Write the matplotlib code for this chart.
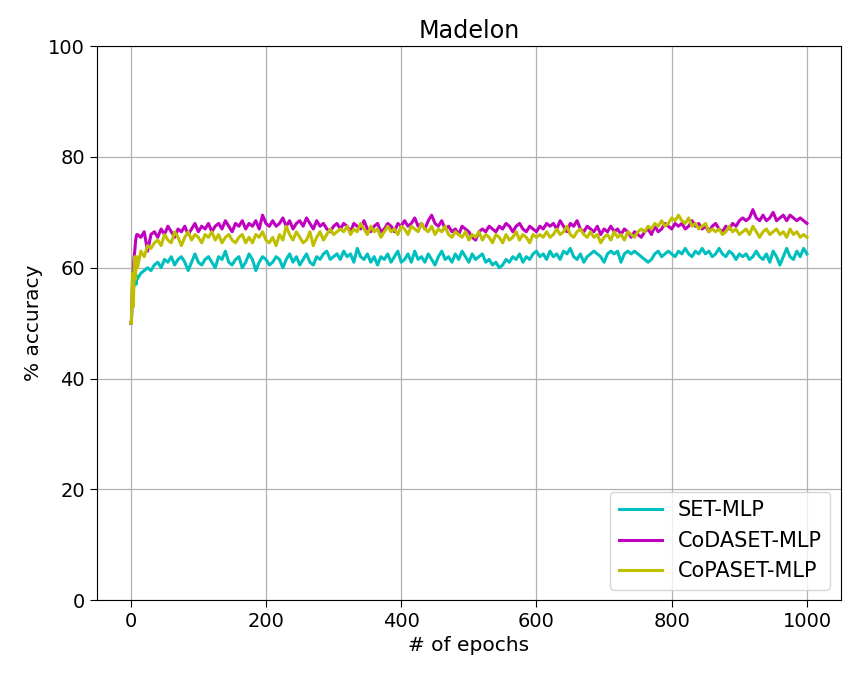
import numpy as np
import matplotlib.pyplot as plt

# epochs: 0..9 one by one, then every 5 epochs up to 1000
EPOCHS = list(range(0, 10)) + list(range(10, 1001, 5))

SET_MLP = [50, 50, 53, 55, 56, 57, 57.5, 58, 57, 58.5,
    58, 59, 59.5, 60, 59.5, 60.5, 61, 60, 61.5, 61, 62, 60.5, 61.5, 62, 61, 59.5, 61, 62.5, 61, 60.5,
    61.5, 62, 61, 60, 62, 61.5, 63, 61, 60.5, 61.5, 62, 60, 61, 62.5, 61.5, 59.5, 61, 62, 61.5, 60.5,
    61, 62, 61.5, 60, 61.5, 62.5, 61, 62, 60.5, 61.5, 62.5, 61, 60.5, 62, 61.5, 62.5, 63, 61.5, 62, 62.5,
    61.5, 63, 62, 62.5, 61, 63.5, 62, 61.5, 62.5, 61, 62, 60.5, 62, 61.5, 62.5, 61, 62, 63, 61, 61.5,
    62.5, 61, 63, 61.5, 62, 61, 62.5, 61.5, 60.5, 62, 63, 61.5, 62, 61, 62.5, 61.5, 63, 62, 61, 62.5,
    61.5, 62, 62.5, 61, 61.5, 60.5, 61, 60, 60.5, 61.5, 61, 62, 61.5, 62.5, 61, 62, 61.5, 62.5, 63, 62,
    62.5, 61.5, 63, 62, 62.5, 61.5, 63, 62.5, 63.5, 62, 61.5, 62.5, 61, 62, 62.5, 63, 62.5, 62, 61, 62.5,
    63, 62.5, 63, 61, 62.5, 63, 62.5, 63, 62.5, 62, 61.5, 61, 61.5, 62.5, 63, 62, 62.5, 63, 62.5, 62,
    63, 62.5, 63.5, 62.5, 62, 63, 62.5, 63.5, 62.5, 63, 62, 62.5, 63.5, 62.5, 62, 63, 62.5, 61.5, 62.5, 62,
    62.5, 61.5, 62, 63, 62, 61.5, 62.5, 61, 63, 62, 60.5, 62, 63.5, 62, 61.5, 63, 62, 63.5, 62.5]

CODASET_MLP = [50, 50, 55, 58, 60, 62, 63, 64.5, 65.5, 66,
    66, 65.5, 66.5, 63, 66, 66.5, 65.5, 67, 66, 67.5, 66.5, 65.5, 67, 66.5, 67.5, 66, 67, 68, 66.5, 67.5,
    67, 68, 66.5, 67.5, 68, 67, 68.5, 67.5, 66.5, 68, 67.5, 68.5, 67, 68, 67.5, 68.5, 67, 69.5, 68, 67.5,
    68.5, 67.5, 68, 69, 67.5, 68.5, 67, 68, 68.5, 67.5, 69, 68, 67, 68.5, 67.5, 68, 67, 66.5, 67.5, 68,
    67, 68, 67.5, 66.5, 68, 67.5, 67, 68.5, 67, 66.5, 67.5, 68, 66.5, 67, 68, 67.5, 66.5, 68, 67.5, 68.5,
    67.5, 68, 69, 67.5, 68, 67, 68.5, 69.5, 68, 67.5, 68.5, 67, 67.5, 66.5, 67, 66, 67.5, 67, 66.5, 65.5,
    65, 66.5, 67, 66.5, 67.5, 67, 66.5, 67.5, 67, 68, 67.5, 66.5, 67.5, 68, 67, 66.5, 67.5, 67, 66.5, 67.5,
    67, 68, 67.5, 68, 67, 68.5, 67.5, 66.5, 68, 67.5, 68.5, 67, 66.5, 67.5, 67, 66.5, 67.5, 66, 67, 66.5,
    67.5, 66.5, 67, 66, 67, 66.5, 65.5, 66.5, 66, 65.5, 66.5, 67, 66, 67.5, 66.5, 67, 68, 67.5, 67, 68,
    67.5, 68, 67, 67.5, 68.5, 67.5, 68, 67, 67.5, 66.5, 67.5, 68, 67, 66.5, 67.5, 67, 68, 67.5, 68.5, 69,
    68.5, 69, 70.5, 69, 68.5, 69.5, 68.5, 69, 70, 68.5, 69, 69.5, 68.5, 69.5, 69, 68.5, 69, 68.5, 68]

COPASET_MLP = [50, 50, 57, 59, 53, 60, 62, 58, 61, 62,
    60, 63, 62, 64, 63.5, 64.5, 65, 64, 66, 65, 64.5, 66.5, 65.5, 64, 65.5, 66.5, 65, 66, 65.5, 64.5,
    66, 65.5, 66.5, 65, 66, 64.5, 65.5, 66, 65, 64.5, 65.5, 66, 64.5, 65.5, 64.5, 66, 65.5, 66.5, 65, 64.5,
    65.5, 64, 66, 65, 67.5, 66, 65, 66.5, 65.5, 64.5, 65, 66.5, 64, 65.5, 66.5, 65, 66, 67, 66, 66.5,
    67, 66.5, 67.5, 66, 67, 66.5, 68, 67, 66, 67.5, 66.5, 67, 65.5, 66.5, 67.5, 66.5, 67, 66, 67.5, 67,
    66, 67.5, 67, 66.5, 68, 67, 66.5, 67.5, 66, 67, 66.5, 67.5, 66, 65.5, 66.5, 66, 65.5, 66.5, 65, 66,
    65.5, 66.5, 65, 66, 65.5, 64.5, 66, 65.5, 64.5, 66, 65, 65.5, 66.5, 65, 66, 65.5, 64.5, 66, 65.5, 66,
    65.5, 66.5, 65.5, 66, 67, 66, 66.5, 67.5, 66, 65.5, 66.5, 67, 66, 65.5, 66.5, 65.5, 66, 64.5, 65.5, 66,
    65, 66.5, 65.5, 66, 65, 66.5, 66, 65.5, 66.5, 67, 66.5, 67.5, 67, 68, 67.5, 68.5, 67.5, 68, 69, 68.5,
    69.5, 68.5, 68, 69, 67.5, 68, 67, 67.5, 68, 66.5, 67, 66.5, 67, 66, 66.5, 67.5, 66.5, 67, 66, 66.5,
    67, 66, 67.5, 66.5, 65.5, 66.5, 67, 66, 66.5, 67, 66, 66.5, 65.5, 67, 66, 66.5, 65.5, 66, 65.5]

SERIES = [("SET-MLP", SET_MLP, "c"),
          ("CoDASET-MLP", CODASET_MLP, "m"),
          ("CoPASET-MLP", COPASET_MLP, "y")]

fig = plt.figure(figsize=(8.65, 6.8), dpi=100)
ax = fig.add_axes([0.112, 0.1176, 0.86, 0.8144])

for name, vals, col in SERIES:
    ax.plot(EPOCHS, vals, color=col, lw=2.2, label=name)

ax.set_ylim(0, 100)
ax.set_xlim(-50, 1050)
ax.set_xticks([0, 200, 400, 600, 800, 1000])
ax.set_yticks([0, 20, 40, 60, 80, 100])
ax.tick_params(labelsize=14, length=5)
ax.grid(True, color="#b0b0b0", lw=0.9)
ax.set_axisbelow(True)
ax.set_xlabel("# of epochs", fontsize=14.5)
ax.set_ylabel("% accuracy", fontsize=14.5)
ax.set_title("Madelon", fontsize=17.2)
ax.legend(loc="lower right", fontsize=15, handlelength=2.1, handletextpad=0.75)

fig.savefig("out.png", dpi=100)
